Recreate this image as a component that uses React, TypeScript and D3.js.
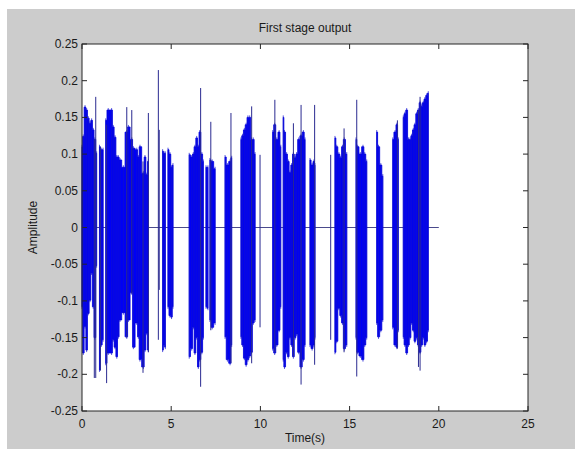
import React from 'react';
import * as d3 from 'd3';

// ---- data ----
const title = 'First stage output';
const xLabel = 'Time(s)';
const yLabel = 'Amplitude';
const xTicks = [0, 5, 10, 15, 20, 25];
const yTicks = [-0.25, -0.2, -0.15, -0.1, -0.05, 0, 0.05, 0.1, 0.15, 0.2, 0.25];
const signalSpan = [0, 20];

// bursts: [time, upper envelope, lower envelope]
const burst1 = [[0.0, 0.110, -0.108], [0.07, 0.124, -0.171], [0.17, 0.164, -0.135], [0.26, 0.160, -0.167], [0.35, 0.149, -0.117], [0.45, 0.142, -0.099], [0.54, 0.146, -0.062], [0.63, 0.133, -0.108], [0.72, 0.120, -0.150], [0.82, 0.101, -0.052]];
const burst2 = [[0.98, 0.110, -0.194], [1.08, 0.106, -0.160], [1.18, 0.106, -0.153]];
const burst3 = [[1.33, 0.146, -0.185], [1.47, 0.160, -0.171], [1.66, 0.160, -0.171], [1.75, 0.137, -0.153], [1.85, 0.123, -0.163], [1.95, 0.096, -0.176], [2.03, 0.096, -0.149], [2.13, 0.092, -0.126], [2.32, 0.082, -0.116], [2.51, 0.130, -0.149], [2.60, 0.137, -0.126], [2.79, 0.120, -0.089], [2.88, 0.108, -0.163], [3.07, 0.106, -0.130], [3.16, 0.096, -0.149], [3.25, 0.110, -0.180], [3.44, 0.074, -0.190], [3.53, 0.096, -0.167], [3.63, 0.072, -0.144], [3.72, 0.090, -0.167]];
const burst4 = [[4.52, 0.104, -0.167], [4.60, 0.101, -0.160], [4.67, 0.101, -0.163]];
const burst5 = [[4.82, 0.106, -0.108], [4.93, 0.100, -0.120], [5.02, 0.082, -0.122], [5.10, 0.085, -0.108]];
const burst6 = [[6.01, 0.099, -0.176], [6.15, 0.096, -0.165], [6.24, 0.100, -0.136], [6.33, 0.110, -0.171], [6.43, 0.122, -0.150], [6.52, 0.110, -0.190], [6.60, 0.130, -0.180], [6.72, 0.100, -0.170], [6.80, 0.090, -0.150]];
const burst7 = [[6.95, 0.082, -0.108], [7.06, 0.082, -0.110]];
const burst8 = [[7.17, 0.092, -0.126], [7.30, 0.090, -0.136], [7.46, 0.080, -0.130]];
const burst9 = [[8.02, 0.096, -0.149], [8.15, 0.085, -0.180], [8.30, 0.090, -0.185], [8.39, 0.095, -0.160]];
const burst10 = [[8.91, 0.120, -0.149], [9.00, 0.125, -0.160], [9.10, 0.133, -0.178], [9.20, 0.140, -0.187], [9.30, 0.150, -0.180], [9.40, 0.150, -0.175], [9.50, 0.120, -0.170], [9.60, 0.120, -0.130], [9.70, 0.100, -0.126]];
const burst11 = [[10.69, 0.130, -0.165], [10.80, 0.140, -0.171], [10.92, 0.120, -0.160], [11.05, 0.130, -0.140], [11.14, 0.110, -0.108]];
const burst12 = [[11.28, 0.150, -0.180], [11.35, 0.130, -0.190], [11.47, 0.100, -0.170], [11.56, 0.090, -0.176], [11.66, 0.075, -0.150], [11.75, 0.085, -0.160], [11.85, 0.100, -0.176], [11.95, 0.095, -0.150], [12.03, 0.100, -0.145], [12.15, 0.120, -0.170], [12.28, 0.125, -0.190], [12.41, 0.130, -0.180], [12.50, 0.120, -0.160]];
const burst13 = [[12.78, 0.092, -0.160], [12.90, 0.085, -0.165], [13.00, 0.090, -0.160], [13.06, 0.085, -0.150]];
const burst14 = [[14.18, 0.122, -0.170], [14.28, 0.110, -0.155], [14.40, 0.100, -0.110], [14.50, 0.095, -0.120], [14.60, 0.110, -0.130], [14.70, 0.120, -0.165], [14.84, 0.100, -0.160]];
const burst15 = [[15.36, 0.120, -0.150], [15.45, 0.110, -0.170], [15.60, 0.100, -0.175], [15.75, 0.110, -0.180], [15.85, 0.100, -0.160], [15.96, 0.090, -0.150]];
const burst16 = [[16.52, 0.130, -0.130], [16.62, 0.110, -0.149], [16.75, 0.085, -0.140], [16.86, 0.070, -0.126]];
const burst17 = [[17.42, 0.120, -0.136], [17.55, 0.130, -0.160], [17.65, 0.140, -0.163], [17.73, 0.120, -0.140]];
const burst18 = [[18.01, 0.150, -0.149], [18.10, 0.155, -0.160], [18.20, 0.160, -0.171], [18.30, 0.120, -0.160], [18.39, 0.120, -0.150], [18.48, 0.125, -0.130], [18.57, 0.133, -0.140], [18.66, 0.140, -0.155], [18.76, 0.155, -0.150], [18.85, 0.160, -0.160], [18.95, 0.170, -0.170], [19.04, 0.165, -0.160], [19.13, 0.170, -0.150], [19.22, 0.175, -0.160], [19.32, 0.180, -0.155], [19.41, 0.183, -0.140]];
const bursts = [burst1, burst2, burst3, burst4, burst5, burst6, burst7, burst8, burst9, burst10, burst11, burst12, burst13, burst14, burst15, burst16, burst17, burst18];

// isolated peaks: [time, max, min]
const spikes = [[0.69, 0.120, -0.205], [0.77, 0.178, -0.205], [1.03, 0.110, -0.195], [1.38, 0.140, -0.212], [2.51, 0.164, -0.150], [2.79, 0.160, -0.090], [3.42, 0.090, -0.198], [3.72, 0.156, -0.170], [4.28, 0.2145, -0.153], [4.33, 0.133, -0.085], [6.65, 0.190, -0.217], [7.22, 0.144, -0.140], [8.35, 0.156, -0.185], [9.51, 0.165, -0.185], [9.98, 0.099, -0.136], [10.81, 0.174, -0.170], [11.85, 0.142, -0.176], [12.28, 0.167, -0.214], [13.04, 0.167, -0.187], [13.94, 0.099, -0.153], [14.69, 0.135, -0.170], [15.40, 0.174, -0.203], [17.68, 0.146, -0.165], [18.86, 0.160, -0.190], [18.95, 0.178, -0.195]];

const W = 575, H = 456;
const font = '"Liberation Sans", Arial, Helvetica, sans-serif';

export default function App() {
  const x = d3.scaleLinear().domain([0, 25]).range([82, 528]);
  const y = d3.scaleLinear().domain([-0.25, 0.25]).range([411, 44]);
  const area = d3.area<number[]>()
    .x(d => x(d[0]))
    .y0(d => y(d[2]))
    .y1(d => y(d[1]))
    .curve(d3.curveStep);
  const tl = 5;
  return (
    <svg width={W} height={H} style={{ position: 'absolute', left: 0, top: 0, display: 'block' }} fontFamily={font}>
      <rect x={0} y={0} width={W} height={H} fill="#ffffff" />
      <rect x={7} y={9} width={W - 7} height={440} fill="#cccccc" />
      <rect x={x(0)} y={y(0.25)} width={x(25) - x(0)} height={y(-0.25) - y(0.25)} fill="#ffffff" />
      {/* silence line */}
      <line x1={x(signalSpan[0])} x2={x(signalSpan[1])} y1={y(0)} y2={y(0)} stroke="#4a4a8c" strokeWidth={1.2} />
      {bursts.map((b, i) => (
        <g key={i}>
          <path d={area(b) || ''} fill="#0000f5" stroke="#0000e0" strokeWidth={0.8} />
          {b.map((d, j) => (
            <line key={j} x1={x(d[0])} x2={x(d[0])} y1={y(d[1]) - 2} y2={y(d[2]) + 2} stroke="#1010d0" strokeWidth={0.7} />
          ))}
        </g>
      ))}
      {spikes.map((s, i) => (
        <line key={i} x1={x(s[0])} x2={x(s[0])} y1={y(s[1])} y2={y(s[2])} stroke="#2a2a90" strokeWidth={1} />
      ))}
      {/* axes box */}
      <rect x={x(0)} y={y(0.25)} width={x(25) - x(0)} height={y(-0.25) - y(0.25)} fill="none" stroke="#262626" strokeWidth={1} />
      {xTicks.map(t => (
        <g key={'x' + t}>
          <line x1={x(t)} x2={x(t)} y1={y(-0.25)} y2={y(-0.25) - tl} stroke="#262626" />
          <line x1={x(t)} x2={x(t)} y1={y(0.25)} y2={y(0.25) + tl} stroke="#262626" />
          <text x={x(t)} y={y(-0.25) + 17} fontSize={12} textAnchor="middle" fill="#1a1a1a">{String(t)}</text>
        </g>
      ))}
      {yTicks.map(t => (
        <g key={'y' + t}>
          <line x1={x(0)} x2={x(0) + tl} y1={y(t)} y2={y(t)} stroke="#262626" />
          <line x1={x(25)} x2={x(25) - tl} y1={y(t)} y2={y(t)} stroke="#262626" />
          <text x={x(0) - 4} y={y(t) + 4} fontSize={12} textAnchor="end" fill="#1a1a1a">{String(t)}</text>
        </g>
      ))}
      <text x={(x(0) + x(25)) / 2} y={32} fontSize={12} textAnchor="middle" fill="#1a1a1a">{title}</text>
      <text x={(x(0) + x(25)) / 2} y={442} fontSize={12} textAnchor="middle" fill="#1a1a1a">{xLabel}</text>
      <text transform={`translate(37, ${(y(0.25) + y(-0.25)) / 2}) rotate(-90)`} fontSize={12} textAnchor="middle" fill="#1a1a1a">{yLabel}</text>
    </svg>
  );
}
